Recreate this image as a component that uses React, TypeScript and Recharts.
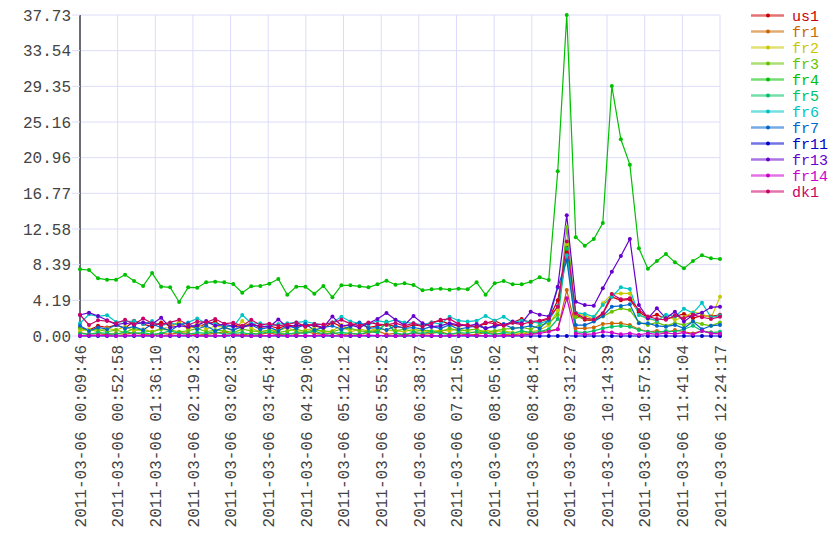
import React from 'react';
import { LineChart, Line, XAxis, YAxis, CartesianGrid } from 'recharts';

const FONT = "'Liberation Mono', 'DejaVu Sans Mono', monospace";

const timeLabels = [
  '2011-03-06 00:09:46', '2011-03-06 00:52:58', '2011-03-06 01:36:10', '2011-03-06 02:19:23',
  '2011-03-06 03:02:35', '2011-03-06 03:45:48', '2011-03-06 04:29:00', '2011-03-06 05:12:12',
  '2011-03-06 05:55:25', '2011-03-06 06:38:37', '2011-03-06 07:21:50', '2011-03-06 08:05:02',
  '2011-03-06 08:48:14', '2011-03-06 09:31:27', '2011-03-06 10:14:39', '2011-03-06 10:57:52',
  '2011-03-06 11:41:04', '2011-03-06 12:24:17',
];

const yTicks = [0, 4.1926, 8.3851, 12.5777, 16.7702, 20.9628, 25.1553, 29.3479, 33.5404, 37.733];

const us1 = [
  1.0, 0.7, 1.2, 1.0, 1.3, 0.9, 1.8, 1.4, 1.1, 1.6,
  1.2, 1.5, 1.0, 1.1, 1.4, 1.7, 1.0, 1.3, 1.1, 1.5,
  1.0, 1.2, 0.9, 1.3, 1.1, 1.4, 1.2, 0.9, 1.6, 1.1,
  1.3, 1.5, 1.0, 1.2, 1.4, 1.1, 1.0, 1.3, 1.2, 1.6,
  1.8, 1.4, 1.2, 1.3, 1.0, 1.5, 1.8, 1.3, 1.6, 2.0,
  1.5, 1.7, 2.0, 4.2, 9.8, 2.5, 1.9, 1.8, 2.6, 4.6,
  4.2, 4.3, 2.8, 2.2, 2.5, 2.0, 2.3, 2.6, 2.1, 2.4,
  2.3, 2.5,
];
const fr1 = [
  0.4, 0.2, 0.3, 0.1, 0.3, 0.2, 0.4, 0.2, 0.1, 0.3,
  0.2, 0.4, 0.3, 0.1, 0.2, 0.3, 0.5, 0.2, 0.1, 0.3,
  0.2, 0.4, 0.1, 0.3, 0.2, 0.5, 0.3, 0.2, 0.4, 0.1,
  0.3, 0.2, 0.4, 0.6, 0.2, 0.3, 0.1, 0.4, 0.2, 0.3,
  0.5, 0.2, 0.3, 0.1, 0.2, 0.4, 0.3, 0.2, 0.1, 0.3,
  0.2, 0.5, 0.6, 0.8, 5.4, 0.9, 0.9, 1.0, 1.41, 1.49,
  1.49, 1.29, 0.8, 0.5, 0.6, 0.4, 0.7, 0.5, 0.3, 0.6,
  0.4, 0.3,
];
const fr2 = [
  0.6, 0.8, 0.5, 0.9, 0.7, 1.1, 0.6, 0.8, 0.5, 0.9,
  1.0, 1.7, 0.7, 1.5, 0.8, 1.2, 1.0, 0.6, 1.75, 0.9,
  0.5, 0.7, 0.6, 1.0, 0.5, 0.7, 0.9, 0.4, 0.6, 1.3,
  0.5, 0.8, 0.6, 0.9, 0.7, 0.6, 0.5, 0.8, 0.6, 0.5,
  0.7, 0.6, 0.9, 0.5, 0.4, 0.7, 0.5, 0.6, 0.4, 0.3,
  0.5, 0.7, 1.3, 3.0, 10.8, 2.6, 2.4, 2.0, 3.84, 4.93,
  5.01, 5.01, 2.47, 2.0, 1.8, 2.4, 1.9, 2.2, 2.8, 2.6,
  2.1, 4.6,
];
const fr3 = [
  0.9, 0.6, 0.8, 0.5, 0.7, 0.4, 0.9, 0.6, 0.5, 0.8,
  0.7, 0.5, 0.6, 0.9, 0.5, 0.7, 0.6, 0.4, 0.8, 0.6,
  0.5, 0.7, 0.4, 0.6, 0.8, 0.5, 0.7, 0.6, 0.5, 0.8,
  0.9, 0.6, 0.5, 0.7, 1.4, 0.6, 0.8, 0.5, 0.7, 0.6,
  0.5, 0.9, 0.6, 0.7, 0.8, 0.4, 0.6, 0.8, 0.9, 1.0,
  0.8, 1.3, 1.5, 2.5, 12.8, 2.2, 2.1, 1.8, 2.3, 2.86,
  3.25, 3.05, 1.6, 1.3, 1.6, 1.2, 1.5, 1.3, 1.7, 1.4,
  1.2, 1.6,
];
const fr4 = [
  7.84, 7.76, 6.78, 6.62, 6.62, 7.21, 6.46, 5.88, 7.40, 5.80,
  5.72, 4.00, 5.72, 5.68, 6.31, 6.38, 6.31, 6.11, 5.09, 5.84,
  5.88, 6.15, 6.70, 4.85, 5.80, 5.80, 4.97, 5.88, 4.55, 5.96,
  5.96, 5.84, 5.72, 6.07, 6.50, 6.03, 6.19, 5.99, 5.37, 5.49,
  5.56, 5.44, 5.56, 5.49, 6.31, 4.85, 6.19, 6.46, 6.07, 6.07,
  6.38, 6.90, 6.58, 19.36, 37.733, 11.60, 10.61, 11.40, 13.28, 29.38,
  23.12, 20.14, 10.31, 7.91, 8.82, 9.64, 8.66, 7.95, 8.82, 9.48,
  9.13, 9.05,
];
const fr5 = [
  0.3, 0.2, 0.4, 0.3, 0.2, 0.5, 0.3, 0.4, 0.2, 0.3,
  0.6, 0.3, 0.2, 0.4, 0.3, 0.5, 0.2, 0.3, 0.4, 0.2,
  0.3, 0.5, 0.3, 0.2, 0.4, 0.3, 0.6, 0.2, 0.3, 0.4,
  0.3, 0.2, 0.5, 0.4, 1.7, 0.3, 0.2, 0.4, 0.3, 0.5,
  0.3, 0.2, 0.4, 0.3, 0.5, 0.3, 0.2, 0.4, 0.3, 0.6,
  0.4, 0.5, 0.8, 2.0, 10.3, 0.5, 0.4, 0.6, 0.9, 1.1,
  1.18, 1.1, 0.7, 0.5, 0.4, 0.6, 0.5, 0.8, 1.2, 0.6,
  0.4, 0.5,
];
const fr6 = [
  1.5, 2.55, 2.3, 2.45, 1.65, 1.7, 1.75, 1.4, 1.75, 1.2,
  1.55, 1.3, 1.6, 2.05, 1.5, 1.4, 1.2, 1.1, 2.47, 1.5,
  1.5, 1.2, 1.4, 1.5, 1.6, 1.7, 1.45, 1.3, 1.6, 2.27,
  1.7, 1.5, 1.3, 1.8, 1.6, 1.9, 1.6, 1.5, 1.3, 1.6,
  1.4, 2.27, 1.8, 1.7, 1.8, 2.35, 1.8, 2.27, 1.6, 1.8,
  1.7, 1.5, 1.8, 3.5, 9.5, 2.74, 2.6, 2.27, 3.64, 4.62,
  5.72, 5.52, 2.47, 2.1, 1.8, 2.5, 2.3, 3.2, 2.7, 3.9,
  2.2, 2.4,
];
const fr7 = [
  1.2, 0.6, 1.0, 0.8, 1.3, 0.9, 1.1, 0.7, 1.4, 1.0,
  0.6, 1.3, 1.5, 0.8, 1.2, 0.6, 1.0, 0.7, 1.1, 1.3,
  0.8, 1.0, 0.6, 1.2, 0.9, 1.4, 0.7, 1.0, 1.2, 0.8,
  1.1, 1.6, 0.9, 1.0, 0.7, 1.2, 0.9, 1.0, 0.8, 1.1,
  0.9, 1.3, 0.8, 1.0, 1.2, 0.9, 1.1, 1.4, 0.9, 1.0,
  1.2, 0.9, 1.9, 5.7, 8.9, 1.29, 1.29, 1.69, 2.35, 3.45,
  3.53, 3.72, 1.49, 1.5, 1.2, 1.1, 1.3, 0.9, 1.7, 0.8,
  1.2, 1.3,
];
const fr11 = [
  0, 0, 0, 0, 0, 0, 0, 0, 0, 0,
  0, 0, 0, 0, 0, 0, 0, 0, 0, 0,
  0, 0, 0, 0, 0, 0, 0, 0, 0, 0,
  0, 0, 0, 0, 0, 0, 0, 0, 0, 0,
  0, 0, 0, 0, 0, 0, 0, 0, 0, 0,
  0, 0, 0, 0, 0, 0, 0, 0, 0, 0,
  0, 0, 0, 0, 0, 0, 0, 0, 0, 0,
  0, 0,
];
const fr13 = [
  2.47, 2.74, 2.35, 1.85, 1.35, 1.5, 1.35, 1.6, 1.4, 2.15,
  1.0, 1.2, 1.1, 1.25, 1.75, 1.2, 1.4, 1.15, 1.0, 1.3,
  1.2, 1.05, 1.95, 1.0, 1.3, 1.15, 1.3, 1.0, 2.3, 1.2,
  1.3, 1.0, 1.5, 2.0, 2.7, 1.9, 1.3, 2.35, 1.5, 1.1,
  1.2, 1.5, 1.3, 1.2, 1.4, 0.9, 1.2, 1.3, 1.7, 1.5,
  2.86, 2.5, 2.3, 5.8, 14.2, 4.03, 3.64, 3.56, 5.6, 7.56,
  9.4, 11.4, 3.64, 2.08, 3.25, 2.08, 2.86, 1.69, 2.47, 2.74,
  3.37, 3.45,
];
const fr14 = [
  0.05, 0.05, 0.1, 0.05, 0, 0.05, 0.1, 0.05, 0.05, 0,
  0.05, 0.1, 0.05, 0.05, 0, 0.05, 0.05, 0.1, 0.05, 0,
  0.05, 0.05, 0.1, 0, 0.05, 0.05, 0.05, 0.1, 0.05, 0,
  0.05, 0.05, 0.1, 0.05, 0.05, 0, 0.05, 0.1, 0.05, 0.05,
  0, 0.05, 0.05, 0.1, 0.05, 0.05, 0, 0.05, 0.05, 0.1,
  0.2, 0.3, 0.5, 0.8, 4.43, 0.3, 0.2, 0.25, 0.5, 0.4,
  0.2, 0.3, 0.15, 0.3, 0.2, 0.35, 0.25, 0.4, 0.2, 0.6,
  0.3, 0.25,
];
const dk1 = [
  2.5, 1.3, 1.85, 1.75, 1.5, 1.9, 1.35, 2.05, 1.5, 1.3,
  1.6, 1.9, 1.3, 1.7, 1.6, 2.0, 1.45, 1.55, 1.2, 1.9,
  1.3, 1.45, 1.2, 1.35, 1.6, 1.1, 1.4, 1.35, 1.55, 1.9,
  1.45, 1.2, 1.6, 1.4, 1.3, 1.5, 1.2, 1.5, 1.1, 1.5,
  1.9, 2.0, 1.4, 1.25, 1.1, 1.6, 1.45, 1.2, 1.55, 1.35,
  1.7, 1.8, 2.1, 3.45, 11.1, 2.66, 2.08, 1.95, 2.66, 4.93,
  4.31, 4.43, 3.05, 2.3, 2.0, 1.9, 2.4, 2.1, 2.5, 2.2,
  2.0, 2.25,
];

const seriesNames = ['us1', 'fr1', 'fr2', 'fr3', 'fr4', 'fr5', 'fr6', 'fr7', 'fr11', 'fr13', 'fr14', 'dk1'];
const seriesValues: number[][] = [us1, fr1, fr2, fr3, fr4, fr5, fr6, fr7, fr11, fr13, fr14, dk1];
const seriesColors = [
  '#cc0000', '#cc6600', '#c8c800', '#66c400', '#00c000', '#00c266',
  '#00c4c4', '#0066cc', '#0000cc', '#6600cc', '#cc00cc', '#cc0066',
];

const data = fr4.map((_, i) => {
  const row: Record<string, number> = { x: i };
  seriesNames.forEach((n, s) => { row[n] = seriesValues[s][i]; });
  return row;
});

const lastIndex = fr4.length - 1;
const xTicks = timeLabels.map((_, k) => (k * lastIndex) / (timeLabels.length - 1));

const XTick = (props: any) => {
  const { x, y, payload } = props;
  const k = Math.round((payload.value * (timeLabels.length - 1)) / lastIndex);
  return (
    <g transform={`translate(${x},${y + 1})`}>
      <text transform="rotate(-90)" textAnchor="end" dy="0.36em" fill="#444" fontSize={16} fontFamily={FONT}>
        {timeLabels[k]}
      </text>
    </g>
  );
};

const Legend = () => (
  <svg width={95} height={215} style={{ position: 'absolute', left: 745, top: 0 }}>
    {seriesNames.map((n, i) => {
      const cy = 15.5 + i * 16;
      return (
        <g key={n}>
          <line x1={6} x2={39} y1={cy} y2={cy} stroke={seriesColors[i]} strokeOpacity={0.55} strokeWidth={2.5} />
          <circle cx={23} cy={cy} r={2} fill={seriesColors[i]} />
          <text x={47} y={cy} dy="0.36em" fill={seriesColors[i]} fontSize={15} fontFamily={FONT}>{n}</text>
        </g>
      );
    })}
  </svg>
);

export default function App() {
  return (
    <div style={{ position: 'absolute', left: 0, top: 0, width: 840, height: 560, background: '#fff' }}>
      <LineChart width={840} height={560} data={data} margin={{ top: 15, right: 120, bottom: 0, left: 0 }}>
        <CartesianGrid stroke="#dcdcfa" strokeWidth={1} />
        <XAxis
          dataKey="x"
          type="number"
          domain={[0, lastIndex]}
          ticks={xTicks}
          interval={0}
          height={224}
          axisLine={false}
          tickLine={{ stroke: '#dcdcfa' }}
          tickSize={6}
          tickMargin={2}
          tick={(p: any) => <XTick {...p} />}
        />
        <YAxis
          type="number"
          domain={[0, yTicks[yTicks.length - 1]]}
          ticks={yTicks}
          interval={0}
          width={80}
          axisLine={{ stroke: '#6a6a72', strokeWidth: 2 }}
          tickLine={{ stroke: '#dcdcfa' }}
          tickSize={8}
          tickMargin={1}
          tick={{ fill: '#444', fontSize: 16, fontFamily: FONT }}
          tickFormatter={(v: number) => v.toFixed(2)}
        />
        {seriesNames.map((n, i) => (
          <Line
            key={n}
            type="linear"
            dataKey={n}
            stroke={seriesColors[i]}
            strokeWidth={1.2}
            dot={{ r: 2, fill: seriesColors[i], stroke: 'none' }}
            activeDot={false}
            isAnimationActive={false}
          />
        ))}
      </LineChart>
      <Legend />
    </div>
  );
}
